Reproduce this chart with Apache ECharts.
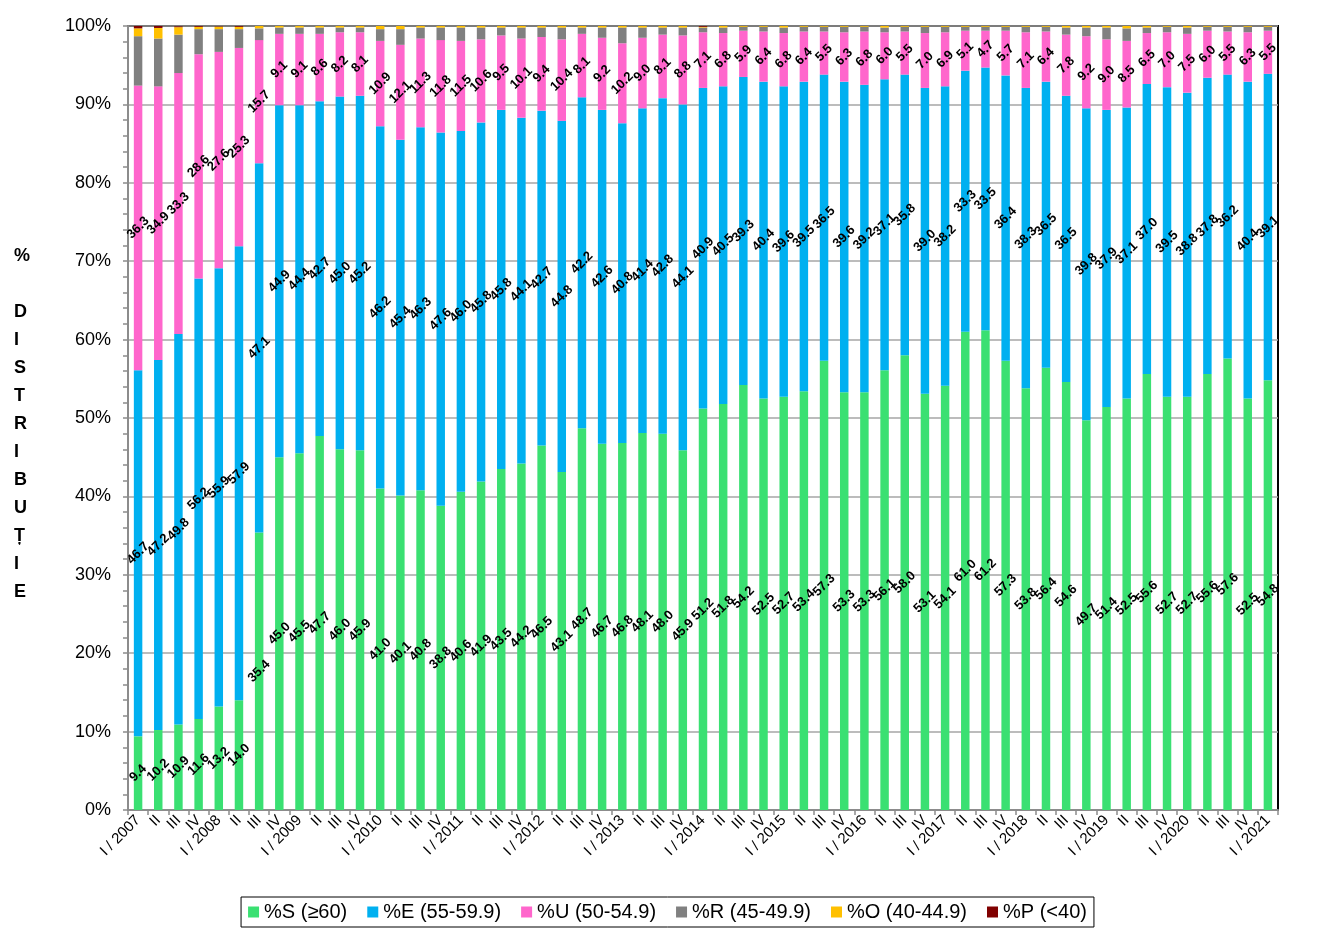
<!DOCTYPE html>
<html>
<head>
<meta charset="utf-8">
<script src="https://cdn.jsdelivr.net/npm/echarts@6/dist/echarts.min.js"></script>
<style>html,body{margin:0;padding:0;background:#fff}#c{width:1335px;height:929px}</style>
</head>
<body>
<div id="c"></div>
<script>
const categories = [
 "I / 2007","II","III","IV","I / 2008","II","III","IV","I / 2009","II","III","IV",
 "I / 2010","II","III","IV","I / 2011","II","III","IV","I / 2012","II","III","IV",
 "I / 2013","II","III","IV","I / 2014","II","III","IV","I / 2015","II","III","IV",
 "I / 2016","II","III","IV","I / 2017","II","III","IV","I / 2018","II","III","IV",
 "I / 2019","II","III","IV","I / 2020","II","III","IV","I / 2021"];
const sData = [9.4,10.2,10.9,11.6,13.2,14.0,35.4,45.0,45.5,47.7,46.0,45.9,
 41.0,40.1,40.8,38.8,40.6,41.9,43.5,44.2,46.5,43.1,48.7,46.7,
 46.8,48.1,48.0,45.9,51.2,51.8,54.2,52.5,52.7,53.4,57.3,53.3,
 53.3,56.1,58.0,53.1,54.1,61.0,61.2,57.3,53.8,56.4,54.6,49.7,
 51.4,52.5,55.6,52.7,52.7,55.6,57.6,52.5,54.8];
const eData = [46.7,47.2,49.8,56.2,55.9,57.9,47.1,44.9,44.4,42.7,45.0,45.2,
 46.2,45.4,46.3,47.6,46.0,45.8,45.8,44.1,42.7,44.8,42.2,42.6,
 40.8,41.4,42.8,44.1,40.9,40.5,39.3,40.4,39.6,39.5,36.5,39.6,
 39.2,37.1,35.8,39.0,38.2,33.3,33.5,36.4,38.3,36.5,36.5,39.8,
 37.9,37.1,37.0,39.5,38.8,37.8,36.2,40.4,39.1];
const uData = [36.3,34.9,33.3,28.6,27.6,25.3,15.7,9.1,9.1,8.6,8.2,8.1,
 10.9,12.1,11.3,11.8,11.5,10.6,9.5,10.1,9.4,10.4,8.1,9.2,
 10.2,9.0,8.1,8.8,7.1,6.8,5.9,6.4,6.8,6.4,5.5,6.3,
 6.8,6.0,5.5,7.0,6.9,5.1,4.7,5.7,7.1,6.4,7.8,9.2,
 9.0,8.5,6.5,7.0,7.5,6.0,5.5,6.3,5.5];
const rData = [6.3,6.1,4.9,3.2,2.9,2.4,1.5,0.8,0.8,0.8,0.6,0.6,
 1.5,2.0,1.4,1.6,1.7,1.5,1.0,1.4,1.2,1.5,0.8,1.3,
 2.0,1.3,0.9,1.0,0.6,0.7,0.5,0.6,0.7,0.6,0.6,0.7,
 0.6,0.6,0.6,0.8,0.7,0.5,0.5,0.5,0.7,0.6,0.9,1.1,
 1.5,1.6,0.7,0.7,0.8,0.5,0.6,0.7,0.5];
const oData = [1.0,1.35,0.95,0.3,0.3,0.3,0.3,0.2,0.2,0.2,0.2,0.2,
 0.4,0.4,0.2,0.2,0.2,0.2,0.2,0.2,0.2,0.2,0.2,0.2,
 0.2,0.2,0.2,0.2,0.1,0.2,0.1,0.1,0.2,0.1,0.1,0.1,
 0.1,0.2,0.1,0.1,0.1,0.1,0.1,0.1,0.1,0.1,0.2,0.2,
 0.2,0.3,0.2,0.1,0.2,0.1,0.1,0.1,0.1];
const pData = [0.3,0.25,0.1,0.1,0.05,0.1,0.05,0.0,0.0,0.0,0.05,0.0,
 0.0,0.0,0.0,0.0,0.0,0.0,0.0,0.0,0.0,0.0,0.0,0.0,
 0.0,0.0,0.0,0.0,0.1,0.0,0.0,0.0,0.0,0.0,0.0,0.0,
 0.0,0.0,0.0,0.0,0.0,0.0,0.0,0.0,0.0,0.0,0.0,0.0,
 0.0,0.0,0.0,0.0,0.0,0.0,0.0,0.0,0.0];
const yTicks = [0,10,20,30,40,50,60,70,80,90,100];
const seriesNames = ["%S (≥60)","%E (55-59.9)","%U (50-54.9)","%R (45-49.9)","%O (40-44.9)","%P (<40)"];
const colors = ["#3AE072","#00B0F0","#FF66CC","#808080","#FFC000","#800000"];

const FONT = 'Arial, "Liberation Sans", sans-serif';
const chart = echarts.init(document.getElementById('c'), null, {renderer:'canvas'});
const lbl = {
  show:true, position:'inside', rotate:45, color:'#000', fontFamily:FONT,
  fontSize:13, fontWeight:'bold', formatter:p=>Number(p.value).toFixed(1)
};
const all = [sData,eData,uData,rData,oData,pData];
const series = all.map((d,i)=>({
  name:seriesNames[i], type:'bar', stack:'t', data:d, barWidth:'42%',
  itemStyle:{color:colors[i]},
  label: i<3 ? lbl : {show:false},
  emphasis:{disabled:true}
}));
chart.setOption({
  animation:false,
  color:colors,
  grid:{left:128,right:57,top:26,bottom:119,show:true,borderColor:'#000',borderWidth:2,backgroundColor:'transparent'},
  legend:{
    bottom:2, left:'center', icon:'rect', itemWidth:11, itemHeight:11, itemGap:20,
    textStyle:{fontSize:20, fontFamily:FONT, color:'#000'},
    borderColor:'#000', borderWidth:1, padding:[5,7,5,7], data:seriesNames
  },
  xAxis:{
    type:'category', data:categories,
    axisLine:{lineStyle:{color:'#8c8c8c',width:2}},
    axisTick:{show:true,alignWithLabel:false,interval:0,length:5,lineStyle:{color:'#8c8c8c',width:1.5}},
    axisLabel:{interval:0, rotate:45, fontSize:15, fontFamily:FONT, color:'#000', margin:8}
  },
  yAxis:{
    type:'value', min:yTicks[0], max:yTicks[yTicks.length-1], interval:10,
    axisLine:{show:true,lineStyle:{color:'#8c8c8c',width:2}},
    axisTick:{show:true,length:5,lineStyle:{color:'#8c8c8c',width:1.5}},
    minorTick:{show:true,splitNumber:5,length:5,lineStyle:{color:'#8c8c8c',width:1.5}},
    splitLine:{lineStyle:{color:'#A6A6A6',width:1.5}},
    axisLabel:{formatter:'{value}%', fontSize:18, fontFamily:FONT, color:'#000', margin:17}
  },
  graphic:[{
    type:'text', left:14, top:242,
    style:{text:'%\n\nD\nI\nS\nT\nR\nI\nB\nU\nȚ\nI\nE', font:'bold 18px '+FONT, fill:'#000', lineHeight:28, align:'center', width:16}
  }],
  series:series
});
</script>
</body>
</html>
